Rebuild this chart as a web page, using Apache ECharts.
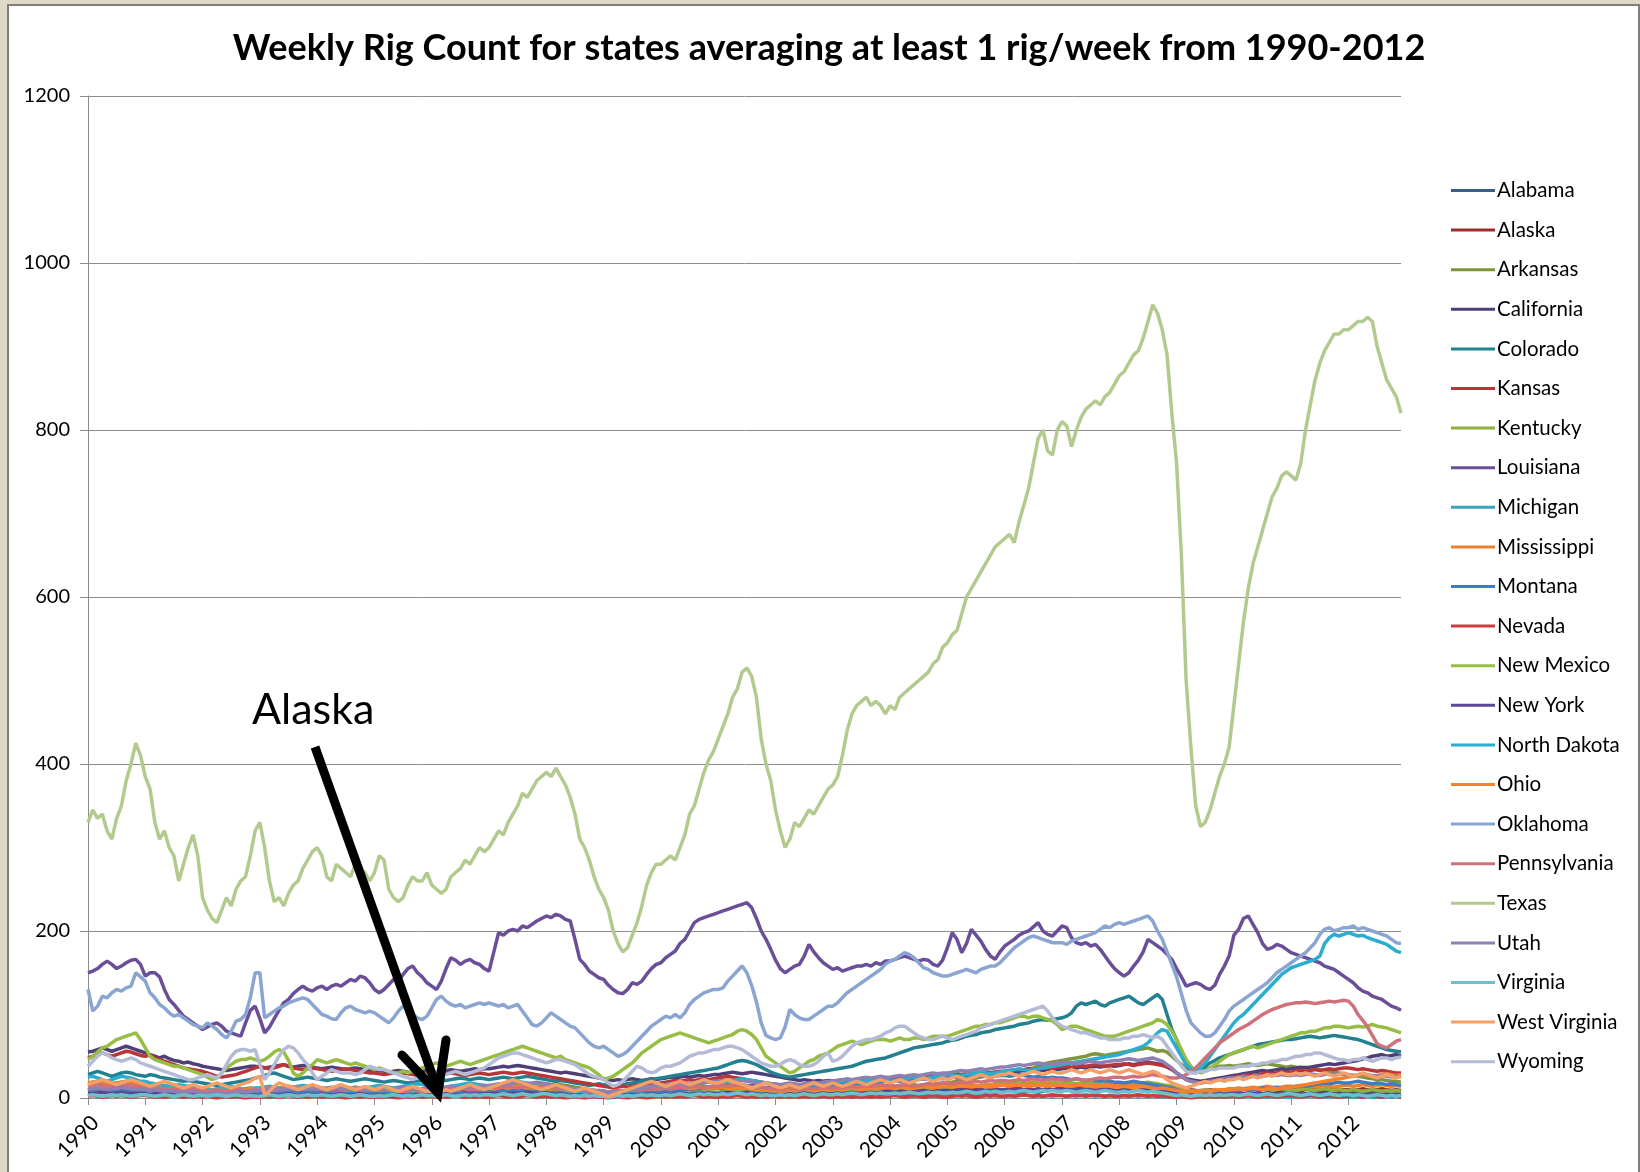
<!DOCTYPE html>
<html>
<head>
<meta charset="utf-8">
<script src="https://cdn.jsdelivr.net/npm/echarts@6/dist/echarts.min.js"></script>
<style>
html,body{margin:0;padding:0;background:#DEDAC6;width:1640px;height:1172px;overflow:hidden;}
#frame{position:absolute;left:7px;top:4px;width:1629px;height:1180px;background:#fff;border:2px solid #7f7f7f;border-bottom:none;}
#chart{position:absolute;left:0;top:0;width:1640px;height:1172px;}
</style>
</head>
<body>
<div id="frame"></div>
<div id="chart"></div>
<script>
const years = ['1990','1991','1992','1993','1994','1995','1996','1997','1998','1999','2000','2001','2002','2003','2004','2005','2006','2007','2008','2009','2010','2011','2012'];
const yTicks = [0, 200, 400, 600, 800, 1000, 1200];
const stateNames = ['Alabama','Alaska','Arkansas','California','Colorado','Kansas','Kentucky','Louisiana','Michigan','Mississippi','Montana','Nevada','New Mexico','New York','North Dakota','Ohio','Oklahoma','Pennsylvania','Texas','Utah','Virginia','West Virginia','Wyoming'];
const stateColors = ['#375E8E','#9B2D2A','#7E963A','#4F3F77','#23818F','#B8363A','#8DB03F','#6A4E98','#3BA3BD','#EE7F2C','#3C7DC4','#CC3E3E','#97BD45','#5A4896','#2BADD0','#F7822A','#8AA5D2','#D0707A','#B2CA8E','#8E80B2','#6DBFCC','#F6A068','#B4BBD6'];

const Alabama = [
10,11,12,11,10,9,10,11,12,10,9,10,
9,8,9,10,8,7,8,9,8,7,8,7,
6,7,6,5,6,7,6,5,6,7,8,7,
8,9,8,7,8,9,10,9,8,9,10,9,
9,10,9,8,9,10,11,10,9,10,9,8,
8,9,8,7,6,7,8,9,8,7,8,7,
7,8,9,8,9,10,9,8,9,10,11,10,
10,11,12,11,10,11,12,13,12,11,12,11,
10,11,10,9,8,9,8,7,6,7,6,5,
5,4,5,6,5,4,5,6,7,6,7,8,
8,9,10,9,10,11,10,9,10,11,12,11,
12,11,12,13,12,11,10,9,8,7,8,7,
6,5,6,7,6,5,6,7,6,5,6,7,
7,8,7,6,7,8,7,6,7,8,7,6,
6,7,6,5,6,7,6,5,6,7,6,7,
7,6,7,8,7,6,7,8,7,6,7,8,
8,9,8,7,8,9,8,7,8,9,10,9,
9,10,9,8,9,10,11,10,9,10,11,10,
10,11,10,9,10,11,12,11,10,9,8,7,
6,5,4,3,4,3,4,5,4,5,4,5,
5,6,5,6,7,6,5,6,7,6,7,6,
6,7,6,5,6,7,6,7,6,5,6,7,
7,6,7,6,7,6,5,6,7,6,5,6];

const Alaska = [
14,15,16,15,14,13,14,15,16,15,14,13,
13,12,14,15,13,12,11,12,13,12,11,10,
9,10,9,8,7,8,9,8,7,6,7,8,
8,9,10,9,8,7,8,9,10,9,8,7,
7,6,7,8,9,8,7,6,5,6,7,6,
6,5,6,7,6,5,4,5,6,5,4,5,
5,4,5,4,5,6,7,6,5,6,7,8,
8,9,10,11,10,9,10,11,12,11,10,9,
9,10,9,8,7,6,5,6,5,4,5,6,
6,5,6,7,6,7,8,9,10,11,10,11,
11,12,13,12,11,12,13,14,13,12,13,14,
14,15,16,15,14,13,14,15,14,13,12,11,
11,10,11,12,11,10,9,10,11,10,11,12,
12,11,12,13,12,11,10,11,12,11,10,11,
10,9,10,11,10,9,8,9,10,9,10,11,
11,12,11,10,11,12,11,10,9,10,11,10,
10,11,12,11,10,11,10,9,10,11,10,9,
9,10,9,8,9,10,9,10,11,10,9,10,
10,11,10,9,10,11,10,9,10,11,10,9,
9,8,9,10,9,8,9,10,9,8,9,10,
10,9,10,11,10,9,10,11,10,9,10,11,
11,10,9,10,11,10,9,10,11,10,9,10,
10,9,10,11,10,9,10,11,10,9,10,9];

const Arkansas = [
18,19,20,19,18,17,18,19,20,19,18,17,
16,15,14,15,14,13,12,13,12,11,12,11,
10,9,8,9,10,11,10,9,10,11,12,11,
12,13,12,11,12,13,14,13,12,13,14,13,
13,12,11,12,13,12,11,12,13,12,11,12,
12,11,10,11,12,11,10,11,12,11,10,11,
11,12,13,12,11,12,13,14,13,12,13,14,
14,15,16,17,16,17,18,17,16,17,18,17,
17,16,17,16,15,14,13,12,11,10,9,9,
8,7,8,9,8,9,10,9,10,11,10,11,
11,12,13,12,13,14,13,14,15,14,13,14,
14,15,16,15,14,13,12,11,12,11,10,11,
10,11,12,11,10,11,12,11,12,13,12,11,
12,13,14,13,14,15,14,13,14,15,16,15,
15,14,15,16,17,16,15,16,17,18,17,18,
18,19,20,21,22,23,24,25,26,27,28,29,
30,31,32,33,34,35,36,38,40,42,43,44,
45,46,47,48,49,50,52,53,52,51,52,53,
54,55,56,57,58,59,60,58,56,57,55,50,
45,40,36,34,33,34,35,36,37,38,38,39,
38,39,40,41,40,39,40,41,40,39,38,37,
38,37,36,37,36,35,34,33,32,31,30,29,
28,27,26,25,24,23,22,22,21,20,20,19];

const California = [
55,56,58,60,58,56,58,60,62,60,58,56,
54,52,50,48,50,47,45,44,42,43,41,40,
38,37,36,35,34,33,34,35,36,37,38,38,
37,36,37,38,39,40,38,37,38,39,38,37,
36,35,36,37,36,35,34,35,36,35,34,33,
32,33,32,31,32,33,32,31,30,31,32,33,
32,31,32,33,34,33,32,33,34,35,34,35,
35,36,37,38,37,38,39,38,37,36,35,34,
33,32,31,30,31,30,29,28,27,26,25,24,
23,22,21,22,21,22,23,22,21,22,23,22,
23,24,25,24,25,26,25,26,27,26,27,28,
28,29,30,31,30,29,30,31,30,29,28,27,
26,25,24,23,22,21,22,21,20,21,20,21,
20,21,22,21,20,21,22,23,22,23,24,23,
24,25,24,25,26,25,26,27,26,25,26,27,
27,28,27,28,29,28,29,30,29,30,31,30,
31,32,31,32,33,32,33,34,33,34,35,34,
35,36,35,36,37,36,37,38,37,38,39,38,
39,40,41,40,41,42,43,42,41,40,38,35,
30,26,23,22,21,20,21,22,23,24,25,26,
27,28,29,30,31,32,33,32,33,34,35,34,
35,36,37,36,37,38,39,40,41,40,41,42,
43,44,45,47,48,50,51,52,50,51,52,50];

const Colorado = [
28,30,32,30,28,26,28,30,31,30,28,27,
26,28,27,25,24,23,22,21,20,21,20,19,
18,17,16,15,16,17,18,19,20,21,22,24,
25,27,29,30,28,26,24,22,23,24,25,24,
23,22,21,22,23,22,21,20,21,22,23,22,
21,20,19,20,21,20,19,18,19,20,21,22,
22,23,22,21,22,23,24,23,22,23,24,23,
22,23,24,25,24,23,24,25,26,25,24,23,
22,21,20,21,20,19,18,17,16,15,16,17,
16,15,14,15,16,17,18,19,20,21,22,23,
24,25,26,27,28,29,30,31,32,33,34,35,
36,38,40,42,44,45,44,42,40,37,34,31,
29,27,26,25,26,27,28,29,30,31,32,33,
34,35,36,37,38,40,42,44,45,46,47,48,
50,52,54,56,58,60,61,62,63,64,65,66,
68,69,70,72,74,75,76,78,79,80,82,83,
84,85,86,88,89,90,92,93,94,93,94,95,
96,98,102,110,114,112,114,116,112,110,114,116,
118,120,122,118,114,112,116,120,124,118,100,82,
70,54,40,32,30,34,38,42,45,48,50,52,
54,56,58,60,62,64,65,66,67,68,69,70,
70,71,72,73,74,73,72,73,74,75,74,73,
72,71,70,68,66,64,62,60,58,57,56,55];

const Kansas = [
48,50,52,54,52,50,52,54,56,55,53,51,
50,52,48,46,44,42,40,38,36,35,34,33,
32,30,28,26,25,26,27,28,30,32,34,36,
38,36,35,36,38,40,38,36,35,34,35,36,
35,34,33,32,33,34,35,34,33,32,31,30,
30,29,28,29,30,31,30,29,28,27,28,29,
28,27,28,29,30,29,28,27,28,29,30,29,
28,29,30,31,30,29,30,31,30,29,28,27,
26,25,24,23,22,21,20,19,18,17,16,15,
14,13,12,13,14,13,14,15,16,17,16,17,
18,19,20,21,20,21,22,21,22,23,22,23,
24,25,26,25,24,23,22,21,20,19,18,17,
16,15,16,17,16,15,16,17,18,17,18,19,
19,20,19,20,21,20,21,22,21,22,23,22,
22,23,24,23,24,25,24,25,26,25,26,27,
27,28,29,28,29,30,29,30,31,30,31,32,
32,33,34,33,34,35,34,35,36,35,36,37,
37,38,37,38,39,38,39,40,39,38,39,40,
40,41,40,39,40,41,42,41,40,39,37,34,
30,26,22,20,19,18,19,20,21,22,23,24,
25,26,27,28,27,28,29,30,29,30,31,30,
31,32,33,32,33,34,33,34,35,34,35,36,
36,35,34,35,34,33,32,33,32,31,30,30];

const Kentucky = [
6,7,8,7,6,7,8,7,6,7,8,7,
7,6,5,6,7,6,5,6,7,6,5,6,
5,4,5,6,5,4,5,6,5,4,5,6,
6,5,6,7,6,5,6,7,6,5,6,7,
6,5,6,5,4,5,6,5,4,5,6,5,
5,4,5,4,5,4,5,4,5,4,5,4,
4,5,4,5,6,5,4,5,6,5,6,5,
5,6,5,6,7,6,5,6,7,6,7,6,
6,5,6,5,4,5,4,3,4,3,4,3,
3,2,3,4,3,4,3,4,5,4,5,4,
4,5,6,5,6,7,6,7,8,7,8,7,
7,8,9,8,9,10,9,8,9,8,7,8,
7,6,7,8,7,6,7,8,7,6,7,8,
8,9,8,9,10,9,10,11,10,9,10,11,
11,10,11,12,11,12,13,12,11,12,13,12,
12,13,14,13,14,15,14,15,16,15,16,17,
17,16,17,18,17,18,19,18,17,18,19,18,
18,19,18,17,18,19,18,17,16,17,18,17,
17,18,17,16,17,18,19,18,17,16,15,14,
12,11,10,9,8,9,10,9,8,9,10,9,
9,10,11,10,9,10,11,10,9,10,11,10,
10,9,10,11,10,9,10,11,10,9,10,9,
9,10,9,8,9,10,9,8,9,8,9,8];

const Louisiana = [
150,152,155,160,164,160,155,158,162,165,166,160,
146,150,150,145,130,118,112,105,98,94,90,86,
82,85,88,90,86,80,78,76,74,90,105,110,
95,78,85,95,105,114,118,125,130,134,130,128,
132,134,130,134,136,134,138,142,140,146,144,138,
130,126,130,136,142,140,148,155,158,150,145,138,
134,130,140,155,168,165,160,164,166,162,160,155,
152,175,198,195,200,202,200,206,204,208,212,215,
218,216,220,218,214,212,190,166,160,152,148,144,
142,135,130,126,125,130,138,136,140,148,155,160,
162,168,172,176,185,190,200,210,214,216,218,220,
222,224,226,228,230,232,234,228,215,200,190,178,
165,155,150,154,158,160,170,184,175,168,162,158,
154,156,152,154,156,158,158,160,158,162,160,164,
164,166,168,170,168,166,164,166,165,160,158,165,
180,198,190,174,185,202,195,188,178,170,166,175,
182,186,190,195,198,200,205,210,200,196,194,200,
206,204,192,186,184,186,182,184,178,170,162,155,
150,146,150,158,165,175,190,186,182,178,172,166,
155,145,134,136,138,136,132,130,135,148,158,170,
195,202,215,218,208,198,185,178,180,184,182,178,
174,172,170,168,166,164,162,158,156,154,150,146,
142,138,132,128,126,122,120,118,114,110,108,105];

const Michigan = [
12,11,12,13,12,11,12,13,12,11,10,11,
10,9,10,11,10,9,8,9,10,9,8,9,
8,7,8,7,6,7,8,7,6,7,8,7,
7,8,7,8,9,8,7,8,9,8,7,8,
8,7,8,7,6,7,8,7,6,7,8,7,
7,6,7,6,5,6,7,6,5,6,7,6,
6,7,6,5,6,7,6,5,6,7,6,7,
7,8,7,8,9,8,7,8,9,8,7,8,
8,7,6,7,6,5,6,5,4,5,4,5,
4,3,4,3,4,5,4,5,4,5,6,5,
5,6,5,6,5,6,7,6,5,6,7,6,
6,5,6,7,6,5,6,5,4,5,4,5,
4,3,4,5,4,3,4,5,4,3,4,5,
4,3,4,3,4,5,4,3,4,3,4,3,
3,4,3,4,3,2,3,4,3,2,3,4,
3,2,3,4,3,2,3,2,3,4,3,2,
2,3,2,3,4,3,2,3,2,3,2,3,
3,2,3,2,3,4,3,2,3,2,3,2,
2,3,2,3,2,3,2,3,2,1,2,1,
1,2,1,2,1,2,1,2,1,2,1,2,
2,1,2,3,2,1,2,1,2,3,2,1,
1,2,1,2,3,2,1,2,1,2,1,2,
2,1,2,1,2,1,2,1,2,1,2,1];

const Mississippi = [
18,19,20,19,18,17,18,19,20,19,18,17,
16,15,16,15,14,13,14,13,12,13,12,11,
10,9,8,9,8,7,8,9,10,9,10,11,
11,12,11,10,11,12,13,12,11,12,13,12,
12,11,10,11,12,11,10,9,10,11,10,9,
9,10,9,8,9,10,9,8,9,10,9,10,
10,11,12,11,10,11,12,11,10,11,12,13,
13,12,13,14,13,12,13,14,13,12,11,12,
11,10,11,10,9,8,9,8,7,8,7,6,
6,7,6,5,6,7,8,7,8,9,8,9,
9,10,11,10,11,12,11,12,13,12,13,14,
14,15,14,13,14,15,14,13,12,11,12,11,
10,11,10,9,10,11,10,11,12,11,12,13,
13,12,13,14,13,12,13,14,13,14,15,14,
14,13,14,15,14,13,14,15,16,15,14,15,
15,16,15,14,15,16,15,14,15,16,15,16,
16,17,16,15,16,17,16,15,16,17,16,15,
15,14,15,16,15,14,15,16,15,14,15,16,
16,17,16,15,16,17,16,15,14,13,12,11,
10,9,8,7,8,9,8,9,10,9,10,11,
11,12,11,12,13,12,13,14,13,12,13,14,
14,13,14,15,14,13,14,15,14,13,14,15,
15,14,15,16,15,14,15,16,15,14,15,14];

const Montana = [
10,9,10,11,10,9,10,11,10,9,8,9,
8,9,8,7,8,7,6,7,6,7,6,5,
5,4,5,6,5,4,5,6,5,4,5,6,
6,7,6,5,6,7,6,7,8,7,6,7,
7,6,7,6,5,6,7,6,5,6,5,6,
6,5,6,5,4,5,6,5,4,5,6,5,
5,6,5,6,7,6,5,6,7,6,7,6,
6,7,8,7,8,9,8,9,8,7,8,7,
7,6,7,6,5,4,5,4,3,4,3,4,
4,3,4,5,4,5,6,5,6,7,6,7,
7,8,9,10,9,10,11,12,11,12,13,12,
13,14,15,14,15,16,15,14,13,12,13,12,
11,12,11,12,13,12,13,14,13,14,15,14,
15,16,17,16,17,18,17,18,19,18,19,20,
20,21,20,21,22,21,22,23,22,23,24,23,
24,25,24,25,26,25,26,27,26,25,26,27,
27,26,27,28,27,26,25,26,25,24,25,24,
24,23,22,23,22,21,22,21,20,21,20,19,
19,18,19,20,19,18,17,16,15,14,13,12,
10,8,7,6,5,4,5,6,5,6,7,8,
8,9,10,11,10,11,12,11,12,13,12,13,
13,14,15,14,15,16,17,18,17,18,19,18,
18,19,20,19,18,17,18,17,16,17,16,15];

const Nevada = [
2,3,2,1,2,3,2,3,2,1,2,3,
3,2,1,2,1,2,3,2,1,2,1,2,
1,2,1,0,1,2,1,2,1,0,1,1,
1,2,1,2,1,2,3,2,1,2,1,2,
2,1,2,1,2,1,0,1,2,1,2,1,
1,2,1,2,1,0,1,2,1,2,1,2,
2,1,2,1,2,3,2,1,2,1,2,1,
1,2,3,2,1,2,1,2,3,2,1,2,
2,1,2,1,0,1,2,1,0,1,2,1,
1,0,1,2,1,0,1,2,1,0,1,2,
2,1,2,1,2,1,2,3,2,1,2,1,
1,2,1,2,3,2,1,2,1,2,1,2,
2,1,2,1,2,1,2,1,2,1,2,1,
1,2,1,2,1,2,1,2,1,2,1,2,
2,3,2,1,2,3,2,1,2,3,2,1,
1,2,3,2,3,2,1,2,3,2,3,2,
2,3,2,3,4,3,2,3,2,3,4,3,
3,2,3,4,3,2,3,4,3,2,3,2,
2,3,2,3,4,3,2,3,2,3,2,1,
1,2,1,0,1,2,1,2,1,2,1,2,
2,1,2,3,2,1,2,3,2,1,2,3,
3,2,1,2,3,2,1,2,3,2,1,2,
2,3,2,1,2,3,2,1,2,3,2,1];

const NewMexico = [
46,50,55,60,62,66,70,72,74,76,78,70,
60,50,46,44,42,40,38,38,36,34,32,30,
28,25,22,24,30,36,40,44,46,46,48,46,
44,46,50,55,58,55,45,30,26,30,36,40,
46,44,42,44,46,44,42,40,42,40,38,36,
34,36,34,32,30,30,32,30,32,34,36,38,
40,42,40,38,40,42,44,42,40,42,44,46,
48,50,52,54,56,58,60,62,60,58,56,54,
52,50,48,50,46,44,42,40,38,36,32,28,
22,24,26,30,34,38,42,48,54,58,62,66,
70,72,74,76,78,76,74,72,70,68,66,68,
70,72,74,76,80,82,80,76,70,60,50,46,
42,38,34,30,32,36,40,44,46,50,52,54,
58,62,64,66,68,66,64,66,68,70,70,70,
68,70,72,70,70,72,72,70,72,74,74,74,
74,76,78,80,82,84,86,86,88,88,90,90,
92,94,96,98,98,96,98,98,96,94,92,88,
82,84,86,86,84,82,80,78,76,74,74,74,
76,78,80,82,84,86,88,90,94,92,88,80,
70,58,46,38,32,30,32,36,40,44,48,52,
54,56,58,60,62,60,62,64,66,68,70,72,
74,76,78,78,80,80,82,84,84,86,86,85,
84,85,86,85,86,88,86,85,84,82,80,78];

const NewYork = [
6,5,6,7,6,5,6,7,6,5,6,5,
5,4,5,6,5,4,5,4,5,6,5,4,
4,3,4,5,4,3,4,5,4,3,4,3,
3,4,5,4,3,4,5,4,3,4,5,4,
4,5,4,3,4,5,4,3,4,5,4,3,
3,4,3,2,3,4,3,2,3,4,3,4,
4,3,4,5,4,3,4,5,4,5,4,5,
5,6,5,4,5,6,5,6,7,6,5,6,
6,5,4,5,4,3,4,3,4,3,2,3,
3,2,3,2,3,4,3,4,3,4,5,4,
4,5,4,5,6,5,4,5,6,5,6,5,
5,6,7,6,5,6,7,6,5,4,5,4,
4,5,4,5,4,5,6,5,4,5,6,5,
5,6,5,6,7,6,5,6,7,6,7,8,
8,7,8,9,8,7,8,9,8,7,8,9,
9,8,9,10,9,8,9,10,9,10,9,10,
10,9,10,11,10,9,10,11,10,11,10,11,
11,10,11,12,11,10,11,12,11,10,11,10,
10,11,10,9,10,11,10,9,10,9,8,7,
6,5,4,5,4,5,4,5,4,5,4,5,
5,4,5,6,5,4,5,6,5,4,5,4,
4,5,4,3,4,5,4,3,4,5,4,3,
3,4,3,2,3,4,3,2,3,2,3,2];

const NorthDakota = [
25,26,24,22,20,22,24,26,25,24,22,20,
20,18,17,16,15,14,15,16,15,14,13,12,
12,11,10,11,12,13,14,12,11,10,11,12,
12,13,14,13,12,11,12,13,14,15,14,13,
12,11,10,11,12,13,12,11,10,11,12,13,
14,15,14,13,12,13,14,15,16,17,16,15,
14,13,12,13,14,15,16,17,18,17,16,15,
14,15,16,17,18,19,20,19,18,17,16,15,
14,13,12,11,10,9,8,8,7,7,8,9,
8,7,6,7,8,9,10,11,12,13,14,15,
15,16,17,18,17,16,17,18,19,20,19,18,
18,19,20,21,22,23,22,21,20,19,18,17,
16,15,14,13,14,15,16,17,16,15,16,17,
18,19,20,21,20,19,20,21,22,23,22,21,
20,21,22,23,24,25,24,23,24,25,26,27,
28,27,26,27,28,29,30,31,30,29,30,31,
32,33,34,35,34,33,34,35,36,37,38,39,
40,41,42,43,44,45,46,47,48,49,50,51,
52,54,56,58,60,62,66,72,78,82,80,70,
60,50,40,35,34,36,42,50,58,66,74,82,
90,96,100,106,112,118,124,130,136,142,148,152,
156,158,160,162,164,166,170,185,192,196,194,196,
198,196,194,195,192,190,188,186,184,180,176,174];

const Ohio = [
14,13,14,15,14,13,12,13,14,13,12,13,
12,11,12,11,10,11,10,9,10,11,10,9,
9,8,9,10,9,8,9,10,9,10,11,10,
10,11,12,11,10,11,12,13,12,11,12,13,
13,12,11,12,13,12,11,10,11,12,11,10,
10,9,10,11,10,9,8,9,10,9,8,9,
9,10,9,10,11,10,11,12,11,10,11,12,
12,11,12,13,12,13,14,13,12,13,14,13,
13,12,11,12,11,10,9,10,9,8,9,8,
8,7,8,9,8,9,10,9,10,11,10,11,
11,12,11,12,13,12,11,12,13,12,11,12,
12,13,12,11,12,13,12,11,10,11,10,9,
9,8,9,10,9,10,11,10,9,10,11,10,
10,11,10,11,12,11,10,11,12,11,12,13,
13,12,13,12,11,12,13,14,13,12,13,14,
14,13,14,15,14,13,14,15,14,13,14,15,
15,14,15,16,15,14,15,16,15,14,15,16,
16,15,14,15,16,15,14,13,14,15,14,13,
13,14,13,12,13,14,13,12,11,12,11,10,
9,8,7,8,7,8,9,8,9,10,9,10,
10,11,10,11,12,11,10,11,12,11,12,13,
13,14,15,16,17,18,19,20,21,22,23,24,
25,26,27,28,27,26,27,28,29,28,27,28];

const Oklahoma = [
130,104,110,122,120,126,130,128,132,134,150,145,
140,126,120,112,108,102,98,100,96,92,88,86,
84,90,86,82,76,72,80,92,94,100,120,150,
150,96,100,104,108,110,114,116,118,120,118,112,
106,100,98,95,94,102,108,110,106,104,102,104,
102,98,94,90,96,104,110,106,100,96,94,98,
108,118,122,116,112,110,112,108,110,112,114,112,
114,112,110,112,108,110,112,104,96,88,86,90,
96,102,98,94,90,86,84,78,72,66,62,60,
62,58,54,50,52,56,62,68,74,80,86,90,
94,98,96,100,96,102,112,118,122,126,128,130,
130,132,140,146,152,158,150,135,115,90,75,72,
70,72,85,106,100,96,94,94,98,102,106,110,
110,114,120,126,130,134,138,142,146,150,154,160,
164,166,170,174,172,168,162,156,154,150,148,146,
146,148,150,152,154,152,150,154,156,158,158,162,
168,174,180,184,188,192,194,192,190,188,186,186,
186,184,188,190,192,194,196,198,202,206,204,208,
210,208,210,212,214,216,218,212,200,190,175,160,
145,125,105,90,84,78,74,74,78,86,94,104,
110,114,118,122,126,130,134,138,144,150,154,158,
162,166,170,174,180,186,196,202,204,200,202,204,
204,206,202,204,202,200,198,196,194,190,186,185];

const Pennsylvania = [
14,15,16,15,14,13,14,15,16,15,14,13,
13,12,11,12,11,10,11,12,11,10,11,10,
9,8,9,10,9,8,9,10,9,8,9,10,
10,11,10,9,10,11,12,11,10,11,12,11,
11,10,9,10,11,10,9,10,11,10,9,10,
10,9,10,11,10,9,8,9,10,9,8,9,
9,10,11,10,9,10,11,12,11,10,11,12,
12,13,12,13,14,13,12,13,14,13,12,13,
13,12,11,12,11,10,9,10,9,8,9,8,
8,7,8,9,8,9,10,9,10,11,10,11,
11,12,11,12,13,12,13,14,13,12,13,14,
14,15,14,15,16,15,14,13,12,13,12,11,
11,10,11,12,11,10,11,12,11,12,13,12,
12,13,12,13,14,13,14,15,14,15,16,15,
15,14,15,16,15,14,15,16,17,16,17,18,
18,17,18,19,18,19,20,19,20,21,20,21,
21,20,21,22,21,22,23,22,21,22,23,22,
22,21,22,23,22,21,22,23,24,23,24,25,
25,24,25,26,25,26,27,28,27,26,25,24,
24,25,28,32,36,42,48,54,60,66,70,74,
78,82,85,88,92,96,100,103,106,108,110,112,
113,114,114,115,114,113,114,115,116,115,116,117,
116,110,100,93,85,75,65,62,60,64,68,70];

const Texas = [
330,345,335,340,320,310,335,350,380,400,425,410,
385,370,330,310,320,300,290,260,280,300,315,290,
240,225,215,210,225,240,230,250,260,265,290,320,
330,300,260,235,240,230,245,255,260,275,285,295,
300,290,265,260,280,275,270,265,280,275,270,260,
270,290,285,250,240,235,240,255,265,260,260,270,
255,250,245,250,265,270,275,285,280,290,300,295,
300,310,320,315,330,340,350,365,360,370,380,385,
390,385,395,385,375,360,340,310,300,285,265,250,
240,225,200,185,175,180,195,210,230,255,270,280,
280,285,290,285,300,315,340,350,370,390,405,415,
430,445,460,480,490,510,515,505,480,430,400,380,
345,320,300,310,330,325,335,345,340,350,360,370,
375,385,410,440,460,470,475,480,470,475,470,460,
470,465,480,485,490,495,500,505,510,520,525,540,
545,555,560,580,600,610,620,630,640,650,660,665,
670,675,665,690,710,730,760,790,800,775,770,800,
810,805,780,800,815,825,830,835,830,840,845,855,
865,870,880,890,895,910,930,950,940,920,890,820,
760,650,500,420,350,325,330,345,365,385,400,420,
470,520,570,610,640,660,680,700,720,730,745,750,
745,740,760,800,830,860,880,895,905,915,915,920,
920,925,930,930,935,930,900,880,860,850,840,820];

const Utah = [
10,11,12,11,10,11,12,13,12,11,10,11,
10,9,10,9,8,9,8,7,8,7,8,7,
6,5,6,7,6,5,6,7,8,7,8,9,
9,10,11,10,9,10,11,12,11,10,11,12,
12,11,12,13,12,11,10,11,12,11,10,11,
11,12,11,10,11,12,13,12,11,10,11,12,
12,13,12,13,14,13,12,13,14,13,14,15,
15,16,17,16,17,18,19,18,17,18,19,18,
17,16,15,14,13,12,11,10,9,10,9,8,
8,7,8,7,8,9,10,11,12,13,14,15,
15,16,17,16,17,18,17,18,19,18,19,20,
20,21,22,21,20,21,20,19,18,19,18,17,
17,16,17,18,17,16,17,18,19,18,19,20,
20,21,22,23,22,23,24,25,24,25,26,25,
25,26,27,26,27,28,27,28,29,30,29,30,
30,31,32,33,32,33,34,35,34,35,36,37,
37,38,39,40,39,40,41,42,41,40,41,42,
42,43,42,41,42,43,44,43,42,43,44,45,
45,46,47,46,45,46,47,48,46,44,40,36,
30,26,22,20,19,18,19,20,21,22,23,24,
24,25,26,25,26,27,26,27,28,27,28,27,
27,28,27,28,29,28,27,28,29,28,29,28,
28,27,28,29,28,27,26,27,26,25,26,25];

const Virginia = [
3,4,3,2,3,4,3,4,3,2,3,4,
4,3,2,3,4,3,2,3,4,3,2,3,
3,2,3,4,3,2,3,4,3,2,3,2,
2,3,4,3,2,3,4,3,2,3,4,3,
3,4,3,2,3,4,3,2,3,4,3,2,
2,3,2,3,4,3,2,3,2,3,4,3,
3,2,3,4,3,2,3,4,3,4,3,4,
4,3,4,5,4,3,4,5,4,3,4,5,
5,4,3,4,3,2,3,2,3,2,3,2,
2,1,2,3,2,3,2,3,4,3,4,3,
3,4,3,4,5,4,3,4,5,4,5,4,
4,5,4,5,6,5,4,5,4,3,4,3,
3,4,3,4,3,4,5,4,3,4,5,4,
4,5,4,5,6,5,4,5,6,5,6,5,
5,6,5,6,7,6,5,6,7,6,7,6,
6,7,6,7,8,7,6,7,8,7,8,7,
7,8,7,8,9,8,7,8,9,8,9,8,
8,9,8,7,8,9,8,7,8,9,8,7,
7,8,7,8,9,8,7,8,7,6,5,4,
3,4,3,2,3,4,3,4,3,4,3,4,
4,3,4,5,4,3,4,5,4,3,4,5,
5,4,3,4,5,4,3,4,5,4,3,4,
4,3,4,3,2,3,4,3,2,3,2,3];

const WestVirginia = [
16,18,20,22,20,18,16,18,20,22,20,18,
16,14,16,18,20,18,16,14,12,14,16,14,
12,14,16,18,16,14,12,14,16,18,20,24,
26,4,8,14,18,16,14,12,10,12,14,16,
14,12,10,12,14,16,14,12,10,12,14,12,
10,12,14,12,10,8,10,12,14,12,10,8,
8,6,8,10,8,10,12,14,16,14,12,10,
12,14,16,18,20,22,20,18,16,14,12,10,
12,14,16,14,12,10,8,10,12,10,8,6,
4,2,4,6,8,10,12,14,16,18,20,18,
16,14,16,18,20,18,16,18,20,22,20,18,
18,20,22,20,18,16,14,12,14,16,18,16,
14,12,14,16,14,12,14,16,18,16,14,16,
18,16,14,16,18,20,18,16,18,20,22,20,
18,20,22,20,18,20,22,24,22,20,22,24,
22,24,26,24,22,24,26,28,26,24,26,28,
28,30,28,26,28,30,32,30,28,30,32,30,
30,32,34,32,30,32,34,32,30,32,34,32,
30,32,34,32,30,28,30,32,30,26,22,18,
16,14,12,14,16,18,20,18,20,22,20,22,
22,24,22,24,26,24,26,28,26,28,30,28,
28,30,28,30,28,26,28,30,28,26,28,30,
28,26,28,30,28,26,24,26,28,26,24,26];

const Wyoming = [
38,44,50,54,52,48,46,44,46,48,46,42,
40,38,36,34,32,30,28,26,24,22,22,24,
26,28,26,24,30,40,50,56,58,58,56,58,
40,22,30,40,50,58,62,60,54,46,40,30,
22,26,30,34,32,30,30,30,28,30,34,38,
36,34,34,32,30,28,26,24,22,24,26,28,
30,32,30,28,30,32,30,28,30,32,34,36,
40,44,48,50,52,54,54,52,50,48,46,44,
42,44,46,46,44,42,40,36,32,28,26,24,
22,18,14,16,20,26,32,38,36,32,30,32,
36,38,38,40,42,46,50,52,54,54,56,58,
58,60,62,62,60,58,54,50,46,42,40,38,
38,40,44,46,44,40,38,38,40,44,50,54,
44,46,50,56,62,66,68,70,70,72,74,78,
80,84,86,86,82,78,74,72,70,70,72,74,
72,70,72,74,76,78,80,84,86,88,90,92,
94,96,98,100,102,104,106,108,110,104,96,90,
86,84,82,80,78,78,76,74,72,72,70,70,
70,72,72,74,74,76,74,72,74,70,62,54,
46,38,32,30,30,32,32,34,34,36,36,36,
36,38,38,38,40,40,42,42,44,44,46,46,
48,50,50,52,52,54,54,52,50,48,46,46,
44,46,46,48,46,44,46,48,48,46,48,49];

const stateData = [Alabama, Alaska, Arkansas, California, Colorado, Kansas, Kentucky, Louisiana, Michigan, Mississippi, Montana, Nevada, NewMexico, NewYork, NorthDakota, Ohio, Oklahoma, Pennsylvania, Texas, Utah, Virginia, WestVirginia, Wyoming];

const months = [];
years.forEach(function (y) {
  for (let m = 1; m <= 12; m++) months.push(y + '-' + (m < 10 ? '0' : '') + m);
});

const FONT = 'Lato, "Noto Sans", sans-serif';
const chart = echarts.init(document.getElementById('chart'), null, {renderer: 'canvas'});

const series = stateNames.map(function (name, i) {
  return {
    name: name,
    type: 'line',
    data: stateData[i],
    showSymbol: false,
    symbol: 'none',
    smooth: false,
    lineStyle: {width: 3.5, color: stateColors[i]},
    itemStyle: {color: stateColors[i]},
    emphasis: {disabled: true}
  };
});

chart.setOption({
  animation: false,
  backgroundColor: 'transparent',
  title: {
    text: 'Weekly Rig Count for states averaging at least 1 rig/week from 1990-2012',
    left: 824,
    textAlign: 'center',
    top: 25,
    textStyle: {fontFamily: FONT, fontWeight: 'bold', fontSize: 36, color: '#000'}
  },
  legend: {
    orient: 'vertical',
    left: 1446,
    top: 175,
    icon: 'rect',
    itemWidth: 44,
    itemHeight: 3,
    itemGap: 18.6,
    data: stateNames,
    textStyle: {fontFamily: FONT, fontSize: 20.5, color: '#000', lineHeight: 20, padding: [0, 0, 0, -3]}
  },
  grid: {left: 88, right: 239, top: 96, bottom: 74, containLabel: false},
  xAxis: {
    type: 'category',
    data: months,
    boundaryGap: false,
    axisLine: {lineStyle: {color: '#8C8C8C', width: 1}},
    axisTick: {show: true, length: 7, interval: function (i) { return i % 12 === 0; }, lineStyle: {color: '#8C8C8C'}},
    axisLabel: {
      interval: function (i) { return i % 12 === 0; },
      rotate: 45,
      margin: 14,
      verticalAlign: 'top',
      fontFamily: FONT,
      fontSize: 21,
      color: '#000',
      formatter: function (v) { return v.slice(0, 4); }
    },
    splitLine: {show: false}
  },
  yAxis: {
    type: 'value',
    min: yTicks[0],
    max: yTicks[yTicks.length - 1],
    interval: 200,
    axisLine: {show: true, lineStyle: {color: '#8C8C8C', width: 1}},
    axisTick: {show: true, length: 8, lineStyle: {color: '#8C8C8C'}},
    axisLabel: {fontFamily: FONT, fontSize: 20, color: '#000', margin: 18, formatter: function (v) { return String(v); }},
    splitLine: {show: true, lineStyle: {color: '#8C8C8C', width: 1}}
  },
  graphic: [
    {type: 'text', left: 252, top: 689, style: {text: 'Alaska', fontFamily: FONT, fontSize: 43, fill: '#000'}, z: 100},
    {type: 'line', shape: {x1: 315, y1: 747, x2: 437, y2: 1088}, style: {stroke: '#000', lineWidth: 9, lineCap: 'butt'}, z: 100},
    {type: 'polyline', shape: {points: [[402, 1055], [438, 1093], [446, 1040]]}, style: {stroke: '#000', lineWidth: 9, lineCap: 'round', lineJoin: 'miter', fill: null}, z: 100}
  ],
  series: series
});
</script>
</body>
</html>
